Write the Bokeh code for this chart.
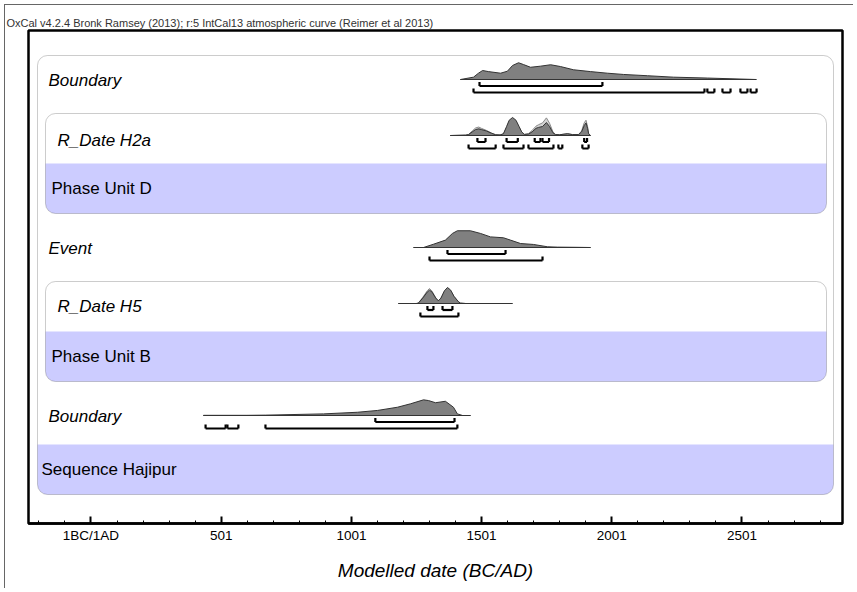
import numpy as np
from bokeh.plotting import figure
from bokeh.models import Range1d, FixedTicker, BoxAnnotation, ColumnDataSource
from bokeh.core.properties import value
from bokeh.embed import file_html
from bokeh.resources import INLINE

# ---------------- data ----------------
TITLE = "OxCal v4.2.4 Bronk Ramsey (2013); r:5 IntCal13 atmospheric curve (Reimer et al 2013)"
AXIS_TITLE = "Modelled date (BC/AD)"

tick_values = [1, 501, 1001, 1501, 2001, 2501]
tick_labels = ["1BC/1AD", "501", "1001", "1501", "2001", "2501"]
minor_values = [-199, -99, 101, 201, 301, 401, 601, 701, 801, 901, 1101, 1201, 1301, 1401,
                1601, 1701, 1801, 1901, 2101, 2201, 2301, 2401, 2601, 2701, 2801]

# Boundary (end)
b_top_years = [1420, 1470, 1489, 1505, 1527, 1574, 1600, 1620, 1643, 1662, 1689, 1727, 1766,
               1804, 1854, 1919, 1984, 2046, 2138, 2238, 2368, 2556]
b_top_prob = [0.0, 0.13, 0.35, 0.50, 0.44, 0.35, 0.46, 0.78, 0.93, 0.83, 0.68, 0.74, 0.82,
              0.72, 0.54, 0.44, 0.35, 0.28, 0.21, 0.13, 0.08, 0.0]
b_top_r68 = [(1493, 1965)]
b_top_r95 = [(1470, 2357), (2368, 2395), (2426, 2457), (2495, 2522), (2534, 2557)]

# R_Date H2a
h2a_years = [1381, 1440, 1451, 1465, 1478, 1490, 1500, 1520, 1540, 1555, 1572, 1585, 1597,
             1607, 1620, 1633, 1645, 1655, 1665, 1681, 1695, 1710, 1720, 1735, 1750, 1762,
             1775, 1785, 1800, 1831, 1850, 1873, 1885, 1895, 1902, 1908, 1912, 1919]
h2a_post = [0.0, 0.02, 0.05, 0.20, 0.33, 0.37, 0.33, 0.25, 0.12, 0.04, 0.03, 0.10, 0.50,
            0.85, 1.00, 0.85, 0.50, 0.20, 0.06, 0.08, 0.20, 0.40, 0.45, 0.50, 0.72, 0.50,
            0.15, 0.05, 0.04, 0.10, 0.05, 0.05, 0.20, 0.55, 0.70, 0.40, 0.10, 0.0]
h2a_like = [0.0, 0.02, 0.06, 0.25, 0.42, 0.47, 0.40, 0.28, 0.13, 0.04, 0.03, 0.09, 0.45,
            0.78, 0.90, 0.76, 0.45, 0.18, 0.06, 0.10, 0.28, 0.52, 0.60, 0.70, 0.98, 0.68,
            0.20, 0.06, 0.04, 0.10, 0.05, 0.05, 0.25, 0.70, 0.85, 0.50, 0.12, 0.0]
h2a_r68 = [(1485, 1516), (1597, 1640), (1705, 1727), (1735, 1760), (1895, 1906)]
h2a_r95 = [(1451, 1555), (1585, 1662), (1681, 1777), (1796, 1811), (1888, 1912)]

# Event
ev_years = [1240, 1278, 1316, 1362, 1389, 1408, 1458, 1497, 1535, 1585, 1612, 1651, 1700,
            1754, 1792, 1869, 1919]
ev_prob = [0.0, 0.0, 0.18, 0.41, 0.78, 0.93, 0.93, 0.78, 0.59, 0.54, 0.41, 0.22, 0.17,
           0.04, 0.02, 0.01, 0.0]
ev_r68 = [(1370, 1593)]
ev_r95 = [(1301, 1735)]

# R_Date H5
h5_years = [1182, 1250, 1258, 1275, 1293, 1301, 1310, 1325, 1335, 1345, 1358, 1370, 1382,
            1395, 1412, 1420, 1440, 1619]
h5_post = [0.0, 0.0, 0.02, 0.30, 0.65, 0.74, 0.65, 0.30, 0.15, 0.30, 0.70, 0.89, 0.75,
           0.40, 0.10, 0.02, 0.0, 0.0]
h5_like = [0.0, 0.0, 0.02, 0.34, 0.72, 0.83, 0.70, 0.32, 0.15, 0.29, 0.66, 0.85, 0.72,
           0.38, 0.10, 0.02, 0.0, 0.0]
h5_r68 = [(1293, 1316), (1351, 1389)]
h5_r95 = [(1266, 1412)]

# Boundary (start)
b_bot_years = [433, 600, 671, 894, 1024, 1101, 1178, 1228, 1278, 1297, 1324, 1362, 1393,
               1408, 1428, 1458]
b_bot_prob = [0.01, 0.01, 0.02, 0.09, 0.18, 0.28, 0.46, 0.65, 0.87, 0.83, 0.71, 0.79, 0.46,
              0.09, 0.0, 0.0]
b_bot_r68 = [(1093, 1397)]
b_bot_r95 = [(441, 518), (525, 567), (671, 1408)]

# ---------------- layout ----------------
XMIN, XMAX = -239, 2887          # years at frame left / right
FRAME_L, FRAME_R = 28, 842        # page px
PX_PER_YR = (FRAME_R - FRAME_L) / (XMAX - XMIN)


def yr(px):
    return XMIN + (px - FRAME_L) / PX_PER_YR


H = 18.0   # max distribution height in px
FONT = "Liberation Sans"
LAV = "#ccccff"
BORDER = "#555555"

p = figure(width=849, height=584, x_range=Range1d(XMIN, XMAX), y_range=Range1d(523, 30),
           output_backend="svg", toolbar_location=None, y_axis_location=None,
           min_border_left=23, min_border_right=12, min_border_top=25, min_border_bottom=66,
           styles={"margin-left": "4px", "margin-top": "4px",
                   "border-left": "1px solid #666666", "border-top": "1px solid #666666"})
p.grid.visible = False
p.outline_line_color = "black"
p.outline_line_width = 2.5
p.background_fill_color = "white"
p.border_fill_color = "white"

p.title.text = TITLE
p.title.align = "left"
p.title.offset = -22
p.title.standoff = 3
p.title.text_font = FONT
p.title.text_font_size = "11px"
p.title.text_font_style = "normal"
p.title.text_color = "#333333"

ax = p.xaxis[0]
ax.ticker = FixedTicker(ticks=tick_values, minor_ticks=minor_values)
ax.major_label_overrides = {t: l for t, l in zip(tick_values, tick_labels)}
ax.axis_line_width = 2.5
ax.axis_line_color = "black"
ax.major_tick_in = 7
ax.major_tick_out = 0
ax.major_tick_line_width = 2
ax.minor_tick_in = 3
ax.minor_tick_out = 0
ax.minor_tick_line_width = 1
ax.major_label_text_font = FONT
ax.major_label_text_font_size = "13.5px"
ax.major_label_text_color = "black"
ax.major_label_standoff = 4
ax.axis_label = AXIS_TITLE
ax.axis_label_text_font = FONT
ax.axis_label_text_font_size = "19px"
ax.axis_label_text_font_style = "italic"
ax.axis_label_text_color = "black"
ax.axis_label_standoff = 14


# ---------- boxes ----------
def group_box(left_px, right_px, top, bottom, lav_top):
    p.add_layout(BoxAnnotation(left=yr(left_px), right=yr(right_px), top=top, bottom=bottom,
                               fill_color="white", fill_alpha=1, line_alpha=0,
                               border_radius=10, level="underlay"))
    p.add_layout(BoxAnnotation(left=yr(left_px), right=yr(right_px), top=lav_top, bottom=bottom,
                               fill_color=LAV, fill_alpha=1, line_alpha=0,
                               border_radius=(0, 0, 10, 10), level="underlay"))
    p.add_layout(BoxAnnotation(left=yr(left_px), right=yr(right_px), top=top, bottom=bottom,
                               fill_alpha=0, line_color=BORDER, line_width=1,
                               border_radius=10, level="underlay"))


group_box(37, 833, 55, 494, 444)
group_box(45, 826, 113, 213, 163)
group_box(45, 826, 281, 381, 331)

# ---------- labels ----------
labels = ["Boundary", "R_Date H2a", "Phase Unit D", "Event", "R_Date H5", "Phase Unit B",
          "Boundary", "Sequence Hajipur"]
label_px = [48, 57, 51, 48, 57, 51, 48, 41]
label_y = [80, 140, 188, 248, 306, 356, 416, 469]
label_style = ["italic", "italic", "normal", "italic", "italic", "normal", "italic", "normal"]
lsrc = ColumnDataSource(dict(x=[yr(v) for v in label_px], y=label_y, t=labels, s=label_style))
p.text(x="x", y="y", text="t", text_font_style="s", source=lsrc, text_font=value(FONT),
       text_font_size="17px", text_baseline="middle", text_align="left", text_color="black")


# ---------- distributions ----------
def dist(years, prob, base, fill, line):
    ys = [base - v * H for v in prob]
    p.patch(list(years) + [years[-1], years[0]], ys + [base, base], fill_color=fill,
            line_color=line, line_width=1)


def baseline(years, base):
    p.line([years[0], years[-1]], [base, base], line_color="#303030", line_width=1)


def brackets(ranges, y):
    x0, y0, x1, y1 = [], [], [], []
    for a, b in ranges:
        x0 += [a, a, b]
        y0 += [y, y, y]
        x1 += [b, a, b]
        y1 += [y, y - 4, y - 4]
    p.segment(x0=x0, y0=y0, x1=x1, y1=y1, line_color="black", line_width=2.2)


rows = [
    (b_top_years, b_top_prob, None, b_top_r68, b_top_r95, 79),
    (h2a_years, h2a_post, h2a_like, h2a_r68, h2a_r95, 135),
    (ev_years, ev_prob, None, ev_r68, ev_r95, 247),
    (h5_years, h5_post, h5_like, h5_r68, h5_r95, 303),
    (b_bot_years, b_bot_prob, None, b_bot_r68, b_bot_r95, 415),
]
for years, post, like, r68, r95, base in rows:
    baseline(years, base)
    if like is not None:
        dist(years, like, base, "#d4d4d4", "#8a8a8a")
    dist(years, post, base, "#808080", "#333333")
    brackets(r68, base + 6.5)
    brackets(r95, base + 13)

open("out.html", "w").write(file_html(p, INLINE))
